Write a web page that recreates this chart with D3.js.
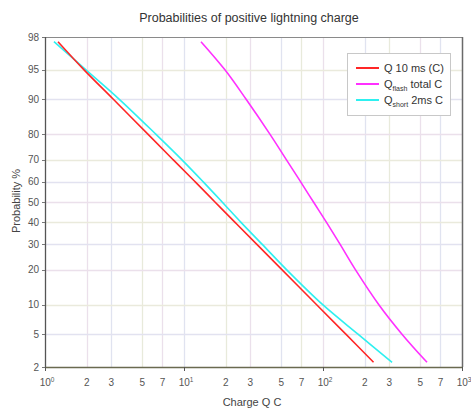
<!DOCTYPE html>
<html>
<head>
<meta charset="utf-8">
<script src="https://cdn.jsdelivr.net/npm/d3@7"></script>
<style>
  body { margin: 0; background: #fff; }
  text { font-family: "Liberation Sans", Arial, sans-serif; }
</style>
</head>
<body>
<div id="chart"></div>
<script>
(function () {
// probability levels (%) where the curves were read
var probLevels = [97.7, 95, 90, 80, 70, 60, 50, 40, 30, 20, 10, 5, 2.3];

// charge values (C) at each probability level
var q10ms   = [1.24, 1.91, 3.09, 5.52, 8.38, 12.0, 16.7, 23.3, 33.3, 50.6, 90.4, 146, 231];
var qFlash  = [13.25, 19.7, 27.9, 41.6, 54.6, 68.9, 85.4, 106, 132.5, 171, 253, 370, 560];
var qShort  = [1.16, 1.97, 3.41, 6.29, 9.67, 13.7, 18.8, 25.7, 36.4, 54.6, 100, 178.5, 314];

var yTicks = [2, 5, 10, 20, 30, 40, 50, 60, 70, 80, 90, 95, 98];
var xGrid = [2, 3, 5, 7, 10, 20, 30, 50, 70, 100, 200, 300, 500, 700];
var xLabels = [
  {v: 1, t: "10", e: "0"}, {v: 2, t: "2"}, {v: 3, t: "3"}, {v: 5, t: "5"}, {v: 7, t: "7"},
  {v: 10, t: "10", e: "1"}, {v: 20, t: "2"}, {v: 30, t: "3"}, {v: 50, t: "5"}, {v: 70, t: "7"},
  {v: 100, t: "10", e: "2"}, {v: 200, t: "2"}, {v: 300, t: "3"}, {v: 500, t: "5"}, {v: 700, t: "7"},
  {v: 1000, t: "10", e: "3"}
];

var series = [
  {name: "Q 10 ms (C)", sub: null, rest: null, values: q10ms, color: "#ff2626"},
  {name: "Q", sub: "flash", rest: " total C", values: qFlash, color: "#ff30ff"},
  {name: "Q", sub: "short", rest: " 2ms C", values: qShort, color: "#2ef0f0"}
];

// inverse normal cdf (Acklam)
function probit(p) {
  var a = [-3.969683028665376e+01, 2.209460984245205e+02, -2.759285104469687e+02, 1.383577518672690e+02, -3.066479806614716e+01, 2.506628277459239e+00];
  var b = [-5.447609879822406e+01, 1.615858368580409e+02, -1.556989798598866e+02, 6.680131188771972e+01, -1.328068155288572e+01];
  var c = [-7.784894002430293e-03, -3.223964580411365e-01, -2.400758277161838e+00, -2.549732539343734e+00, 4.374664141464968e+00, 2.938163982698783e+00];
  var d = [7.784695709041462e-03, 3.224671290700398e-01, 2.445134137142996e+00, 3.754408661907416e+00];
  var pl = 0.02425, q, r;
  if (p < pl) {
    q = Math.sqrt(-2 * Math.log(p));
    return (((((c[0]*q+c[1])*q+c[2])*q+c[3])*q+c[4])*q+c[5]) / ((((d[0]*q+d[1])*q+d[2])*q+d[3])*q+1);
  } else if (p <= 1 - pl) {
    q = p - 0.5; r = q * q;
    return (((((a[0]*r+a[1])*r+a[2])*r+a[3])*r+a[4])*r+a[5])*q / (((((b[0]*r+b[1])*r+b[2])*r+b[3])*r+b[4])*r+1);
  } else {
    q = Math.sqrt(-2 * Math.log(1 - p));
    return -(((((c[0]*q+c[1])*q+c[2])*q+c[3])*q+c[4])*q+c[5]) / ((((d[0]*q+d[1])*q+d[2])*q+d[3])*q+1);
  }
}

var width = 471, height = 409;
var pLeft = 45, pRight = 462, pTop = 37, pBottom = 367;

var svg = d3.select("#chart").append("svg")
  .attr("width", width).attr("height", height);

var x = d3.scaleLog().domain([1, 1000]).range([pLeft, pRight]);
var z = d3.scaleLinear().domain([probit(0.02), probit(0.98)]).range([pBottom, pTop]);
function y(p) { return z(probit(p / 100)); }

//grid colours, slightly tinted like the original
var vCols = ["#ebe0eb", "#e0e3f0", "#e8eadb"];
var hCols = ["#e2e2f0", "#eaeadc", "#ebe0eb"];

svg.append("g").selectAll("line").data(xGrid).enter().append("line")
  .attr("x1", function (d) { return Math.round(x(d)) + 0.5; })
  .attr("x2", function (d) { return Math.round(x(d)) + 0.5; })
  .attr("y1", pTop).attr("y2", pBottom)
  .style("stroke", function (d, i) { return vCols[i % 3]; })
  .style("stroke-width", 1.3);

svg.append("g").selectAll("line").data(yTicks.slice(1, -1)).enter().append("line")
  .attr("x1", pLeft).attr("x2", pRight)
  .attr("y1", function (d) { return Math.round(y(d)) + 0.5; })
  .attr("y2", function (d) { return Math.round(y(d)) + 0.5; })
  .style("stroke", function (d, i) { return hCols[i % 3]; })
  .style("stroke-width", 1.3);

// frame
svg.append("line").attr("x1", pLeft).attr("x2", pRight).attr("y1", pTop + 0.5).attr("y2", pTop + 0.5)
  .style("stroke", "#8a8a8a").style("stroke-width", 1.2);
svg.append("line").attr("x1", pRight + 0.5).attr("x2", pRight + 0.5).attr("y1", pTop).attr("y2", pBottom)
  .style("stroke", "#6a6a6a").style("stroke-width", 1.5);
svg.append("line").attr("x1", pLeft + 0.5).attr("x2", pLeft + 0.5).attr("y1", pTop).attr("y2", pBottom + 1)
  .style("stroke", "#555").style("stroke-width", 1.3);
svg.append("line").attr("x1", pLeft).attr("x2", pRight + 1).attr("y1", pBottom + 0.5).attr("y2", pBottom + 0.5)
  .style("stroke", "#6a6a50").style("stroke-width", 1.5);

// tick marks on decades
svg.append("g").selectAll("line").data([1, 10, 100, 1000]).enter().append("line")
  .attr("x1", function (d) { return Math.round(x(d)) + 0.5; })
  .attr("x2", function (d) { return Math.round(x(d)) + 0.5; })
  .attr("y1", pBottom).attr("y2", pBottom + 4)
  .style("stroke", "#555");
svg.append("g").selectAll("line").data(yTicks).enter().append("line")
  .attr("x1", pLeft - 3).attr("x2", pLeft)
  .attr("y1", function (d) { return Math.round(y(d)) + 0.5; })
  .attr("y2", function (d) { return Math.round(y(d)) + 0.5; })
  .style("stroke", "#777");

// y tick labels
svg.append("g").selectAll("text").data(yTicks).enter().append("text")
  .attr("x", 39)
  .attr("y", function (d) { return y(d); })
  .attr("dy", "0.35em")
  .attr("text-anchor", "end")
  .attr("font-size", 10)
  .attr("fill", "#555")
  .text(function (d) { return d; });

// x tick labels
var xl = svg.append("g").selectAll("text").data(xLabels).enter().append("text")
  .attr("x", function (d) { return x(d.v) + (d.e ? 2 : 0); })
  .attr("y", 386)
  .attr("text-anchor", "middle")
  .attr("font-size", 10)
  .attr("fill", "#555");
xl.append("tspan").text(function (d) { return d.t; });
xl.filter(function (d) { return d.e; }).append("tspan")
  .attr("dy", -4).attr("font-size", 6.5)
  .text(function (d) { return d.e; });

// titles
svg.append("text").attr("x", 249).attr("y", 22)
  .attr("text-anchor", "middle").attr("font-size", 12.5).attr("fill", "#333")
  .text("Probabilities of positive lightning charge");
svg.append("text").attr("x", 252).attr("y", 406)
  .attr("text-anchor", "middle").attr("font-size", 11).attr("fill", "#444")
  .text("Charge Q C");
svg.append("text")
  .attr("transform", "translate(20," + 201 + ") rotate(-90)")
  .attr("text-anchor", "middle").attr("font-size", 11).attr("fill", "#444")
  .text("Probability %");

// curves
var line = d3.line()
  .x(function (d) { return x(d.q); })
  .y(function (d) { return y(d.p); })
  .curve(d3.curveCatmullRom.alpha(0.5));

[series[2], series[0], series[1]].forEach(function (s) {
  var pts = s.values.map(function (v, i) { return {q: v, p: probLevels[i]}; });
  svg.append("path").datum(pts)
    .attr("d", line)
    .attr("fill", "none")
    .attr("stroke", s.color)
    .attr("stroke-width", 1.6);
});

// legend
var lg = svg.append("g");
lg.append("rect").attr("x", 347.5).attr("y", 53.5).attr("width", 103).attr("height", 62)
  .attr("fill", "#fff").attr("stroke", "#c8c8c8");
series.forEach(function (s, i) {
  var ly = 68 + i * 16;
  lg.append("line").attr("x1", 356).attr("x2", 379).attr("y1", ly).attr("y2", ly)
    .attr("stroke", s.color).attr("stroke-width", 2);
  var t = lg.append("text").attr("x", 384).attr("y", ly + 4)
    .attr("font-size", 11).attr("fill", "#333");
  t.append("tspan").text(s.name);
  if (s.sub) {
    t.append("tspan").attr("font-size", 7).attr("dy", 3).text(s.sub);
    t.append("tspan").attr("dy", -3).text(s.rest);
  }
});
})();
</script>
</body>
</html>
